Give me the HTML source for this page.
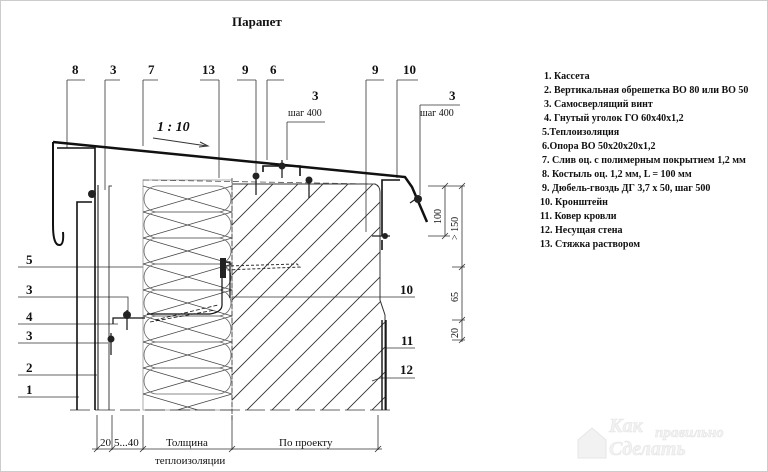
<!DOCTYPE html>
<html><head><meta charset="utf-8"><style>
html,body{margin:0;padding:0;background:#fff}
svg{display:block}
text{font-family:"Liberation Serif",serif;fill:#111}
</style></head><body>
<svg width="768" height="472" viewBox="0 0 768 472" xmlns="http://www.w3.org/2000/svg">
<rect x="0.5" y="0.5" width="767" height="471" fill="#fff" stroke="#ccc"/>
<defs>
<clipPath id="ins"><rect x="143" y="180" width="89" height="230"/></clipPath>
<clipPath id="mas"><path d="M232 184 L375 184 Q380 186 380 192 L380 300 L385 315 L385 410 L232 410Z"/></clipPath>
</defs>
<text x="232" y="26" font-size="13" font-weight="bold">Парапет</text>

<g font-size="13" font-weight="bold">
<text x="72" y="74">8</text><text x="110" y="74">3</text><text x="148" y="74">7</text>
<text x="202" y="74">13</text><text x="242" y="74">9</text><text x="270" y="74">6</text>
<text x="372" y="74">9</text><text x="403" y="74">10</text>
<text x="312" y="100">3</text><text x="449" y="100">3</text>
</g>
<g font-size="10"><text x="288" y="116">шаг 400</text><text x="420" y="116">шаг 400</text></g>
<g stroke="#333" stroke-width="0.8" fill="none">
<path d="M67 80 H85 M67 80 V148"/>
<path d="M105 80 H120 M105 80 V190"/>
<path d="M143 80 H158 M143 80 V146"/>
<path d="M200 80 H219 M219 80 V178"/>
<path d="M237 80 H256 M256 80 V172"/>
<path d="M267 80 H284 M267 80 V160"/>
<path d="M366 80 H384 M366 80 V232"/>
<path d="M397 80 H418 M397 80 V178"/>
<path d="M287 122 H325 M287 122 V160"/>
<path d="M420 105 H460 M420 105 V195"/>
<path d="M18 267 H222"/><path d="M18 297 H128 V318"/><path d="M18 324 H118"/>
<path d="M18 343 H108"/><path d="M18 375 H97"/><path d="M18 397 H79"/>
<path d="M232 297 H415"/><path d="M386 348 H415"/><path d="M372 381 L380 378 H415"/>
</g>
<g font-size="13" font-weight="bold">
<text x="26" y="264">5</text><text x="26" y="294">3</text><text x="26" y="321">4</text>
<text x="26" y="340">3</text><text x="26" y="372">2</text><text x="26" y="394">1</text>
<text x="400" y="294">10</text><text x="401" y="345">11</text><text x="400" y="374">12</text>
</g>
<text x="157" y="131" font-size="14" font-style="italic" font-weight="bold">1 : 10</text>
<path d="M153 138 L207 146" stroke="#333" stroke-width="1"/>
<path d="M200 142 L208 146 L199 147" fill="none" stroke="#333"/>

<rect x="143" y="180" width="89" height="230" fill="#fff" stroke="#999" stroke-width="0.8"/>
<g clip-path="url(#ins)" stroke="#444" stroke-width="0.8" fill="none">
<path d="M143 186 L232 212 L143 238 L232 264 L143 290 L232 316 L143 342 L232 368 L143 394 L232 420"/>
<path d="M232 186 L143 212 L232 238 L143 264 L232 290 L143 316 L232 342 L143 368 L232 394 L143 420"/>
<g stroke="#666">
<rect x="144" y="186" width="87" height="26" rx="13"/><rect x="144" y="212" width="87" height="26" rx="13"/>
<rect x="144" y="238" width="87" height="26" rx="13"/><rect x="144" y="264" width="87" height="26" rx="13"/>
<rect x="144" y="290" width="87" height="26" rx="13"/><rect x="144" y="316" width="87" height="26" rx="13"/>
<rect x="144" y="342" width="87" height="26" rx="13"/><rect x="144" y="368" width="87" height="26" rx="13"/>
</g>
</g>
<g clip-path="url(#mas)" stroke="#333" stroke-width="0.9">
<path d="M232 200 L250 182 M232 225 L275 182 M232 250 L300 182 M232 275 L325 182 M232 300 L350 182 M232 325 L375 182 M232 350 L400 182 M232 375 L400 207 M232 400 L400 232 M237 420 L400 257 M262 420 L400 282 M287 420 L400 307 M312 420 L400 332 M337 420 L400 357 M362 420 L400 382"/>
</g>
<path d="M232 184 H375 Q380 186 380 192 V300 L385 315 V410" fill="none" stroke="#333" stroke-width="1"/>
<line x1="232" y1="178" x2="232" y2="420" stroke="#333" stroke-width="0.8" stroke-dasharray="5 2"/>
<line x1="143" y1="180" x2="375" y2="184" stroke="#555" stroke-width="0.8" stroke-dasharray="6 3"/>
<line x1="70" y1="410" x2="395" y2="410" stroke="#333" stroke-width="0.8" stroke-dasharray="20 5"/>

<g stroke="#111" fill="none">
<path d="M53 142 L405 177 L412 187 L427 222" stroke-width="2.5"/>
<path d="M53 142 V200 M53 185 V225 Q53 246 60 245 Q64 244 63 232" stroke-width="2"/>
<path d="M57 148 H95 V410" stroke-width="1.6"/>
<path d="M77 410 V202 H92" stroke-width="1.6"/>
<path d="M98 185 V410" stroke-width="1"/>
<path d="M112 186 H109 V410" stroke-width="0.8"/>
<path d="M263 172 V166 H300 V176" stroke-width="1.6"/>
<path d="M382 236 V180 H400" stroke-width="1.6"/>
<path d="M382 240 V250" stroke-width="1.6"/>
<path d="M382 320 V410 M386 320 V410" stroke-width="1.4"/>
<path d="M113 324 V318 H145 M147 314 H210 Q222 312 222 305 V262 H230 V298" stroke-width="1.2"/>
<path d="M150 322 L215 310 M155 320 L218 305" stroke-width="0.8" stroke-dasharray="4 2"/>
</g>
<g fill="#222">
<circle cx="92" cy="194" r="4"/><circle cx="256" cy="176" r="3.5"/><circle cx="282" cy="166" r="3.5"/>
<circle cx="309" cy="180" r="3.5"/><circle cx="418" cy="199" r="4"/><circle cx="385" cy="236" r="3"/>
<circle cx="127" cy="315" r="4"/><circle cx="111" cy="339" r="3.5"/>
<rect x="220" y="258" width="6" height="20"/>
</g>
<path d="M226 266 L297 264 L300 267 L226 270Z" fill="none" stroke="#333" stroke-dasharray="3 2"/>
<g stroke="#222" stroke-width="1.3">
<line x1="256" y1="176" x2="256" y2="195"/><line x1="309" y1="180" x2="309" y2="198"/>
<line x1="282" y1="160" x2="282" y2="178"/><line x1="111" y1="333" x2="111" y2="355"/>
<line x1="127" y1="310" x2="127" y2="330"/><line x1="410" y1="203" x2="420" y2="196"/>
<line x1="372" y1="236" x2="390" y2="236"/>
</g>

<g stroke="#333" stroke-width="0.8" fill="none">
<path d="M97 415 V450 M112 415 V450 M143 415 V450 M232 415 V450 M378 415 V450"/>
<path d="M92 449 H382"/>
<path d="M94 452 L100 446 M109 452 L115 446 M140 452 L146 446 M229 452 L235 446 M375 452 L381 446"/>
</g>
<g font-size="11">
<text x="100" y="446">20</text><text x="114" y="446">5...40</text>
<text x="166" y="446">Толщина</text><text x="155" y="464">теплоизоляции</text>
<text x="279" y="446">По проекту</text>
</g>
<g stroke="#333" stroke-width="0.8" fill="none">
<path d="M428 186 H465 M428 236 H450 M445 186 V236 M462 186 V342"/>
<path d="M442 189 L448 183 M442 239 L448 233 M459 189 L465 183 M459 270 L465 264 M459 323 L465 317 M459 343 L465 337"/>
<path d="M452 267 H465 M452 320 H465 M452 340 H465"/>
</g>
<g font-size="10">
<text transform="translate(441 224) rotate(-90)">100</text>
<text transform="translate(458 240) rotate(-90)">&gt; 150</text>
<text transform="translate(458 302) rotate(-90)">65</text>
<text transform="translate(458 338) rotate(-90)">20</text>
</g>
<g font-size="10" font-weight="bold">
<text x="544" y="79">1. Кассета</text>
<text x="544" y="93">2. Вертикальная обрешетка ВО 80 или ВО 50</text>
<text x="544" y="107">3. Самосверлящий винт</text>
<text x="544" y="121">4. Гнутый уголок ГО 60х40х1,2</text>
<text x="542" y="135">5.Теплоизоляция</text>
<text x="542" y="149">6.Опора ВО 50х20х20х1,2</text>
<text x="542" y="163">7. Слив оц. с полимерным покрытием 1,2 мм</text>
<text x="542" y="177">8.  Костыль оц. 1,2 мм, L = 100 мм</text>
<text x="542" y="191">9.  Дюбель-гвоздь ДГ 3,7 х 50, шаг 500</text>
<text x="540" y="205">10. Кронштейн</text>
<text x="540" y="219">11. Ковер кровли</text>
<text x="540" y="233">12. Несущая стена</text>
<text x="540" y="247">13. Стяжка раствором</text>
</g>
<g font-family="Liberation Sans,sans-serif" font-style="italic" font-weight="bold" stroke="#e6e6e6" stroke-width="0.6">
<text x="609" y="432" font-size="20" style="fill:#f2f2f2">Как</text>
<text x="655" y="437" font-size="15" style="fill:#f2f2f2">правильно</text>
<text x="609" y="455" font-size="20" style="fill:#f2f2f2">Сделать</text>
</g>
<path d="M578 440 L592 428 L606 440 V458 H578Z" fill="#f2f2f2" stroke="#e6e6e6"/>
</svg>
</body></html>
